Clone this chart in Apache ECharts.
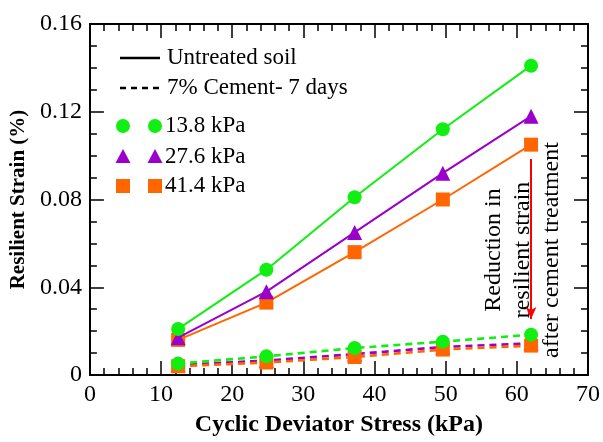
<!DOCTYPE html>
<html>
<head>
<meta charset="utf-8">
<script src="https://cdn.jsdelivr.net/npm/echarts@6/dist/echarts.min.js"></script>
<style>
    html, body {margin: 0; padding: 0; background: #fff;}
    #chart {width: 603px; height: 442px;}
</style>
</head>
<body>
<div id="chart"></div>
<script>
// cyclic deviator stress (kPa)
const stress = [12.4, 24.8, 37.2, 49.6, 62];

// resilient strain (%), untreated soil
const untreated138 = [0.021, 0.048, 0.081, 0.112, 0.141];
const untreated276 = [0.017, 0.038, 0.065, 0.092, 0.118];
const untreated414 = [0.016, 0.033, 0.056, 0.080, 0.105];

// resilient strain (%), 7% cement - 7 days
const cement138 = [0.0052, 0.0085, 0.0123, 0.0152, 0.0184];
const cement276 = [0.0045, 0.0066, 0.0095, 0.0128, 0.0144];
const cement414 = [0.0040, 0.0057, 0.0082, 0.0116, 0.0134];

const confining = ['13.8 kPa', '27.6 kPa', '41.4 kPa'];
const arrowFrom = [62, 0.0985];
const arrowTo = [62, 0.0255];

const green = '#11ee11';
const purple = '#9900cc';
const orange = '#ff6600';
const font = 'Liberation Serif';

function pairs(xs, ys) {
    const out = [];
    for (let i = 0; i < xs.length; i++) {
        out.push([xs[i], ys[i]]);
    }
    return out;
}

function makeSeries(name, values, color, symbol, size, dashed, z) {
    return {
        name: name,
        type: 'line',
        data: pairs(stress, values),
        symbol: symbol,
        symbolSize: size,
        z: z,
        itemStyle: {color: color},
        lineStyle: {
            color: color,
            width: dashed ? 2.6 : 2,
            type: dashed ? [7, 5] : 'solid'
        },
        emphasis: {disabled: true},
        animation: false
    };
}

const seriesData = [
    makeSeries(confining[2], untreated414, orange, 'rect', 14, false, 2),
    makeSeries(confining[1], untreated276, purple, 'triangle', 15, false, 3),
    makeSeries(confining[0], untreated138, green, 'circle', 14, false, 4),
    makeSeries(confining[1] + ' c', cement276, purple, 'triangle', 15, true, 2),
    makeSeries(confining[2] + ' c', cement414, orange, 'rect', 14, true, 3),
    makeSeries(confining[0] + ' c', cement138, green, 'circle', 14, true, 4)
];

// reduction arrow
seriesData.push({
    type: 'line',
    data: [],
    markLine: {
        silent: true,
        symbol: ['none', 'arrow'],
        symbolSize: [8, 12],
        label: {show: false},
        lineStyle: {color: '#ff0000', width: 2, type: 'solid'},
        data: [[{coord: arrowFrom}, {coord: arrowTo}]],
        animation: false
    }
});

const axisCommon = {
    axisLine: {show: true, onZero: false, lineStyle: {color: '#000', width: 2}},
    axisTick: {show: true, inside: true, length: 14, lineStyle: {color: '#000', width: 1.5}},
    minorTick: {show: true, length: 7, lineStyle: {color: '#000', width: 1.5}},
    splitLine: {show: false},
    minorSplitLine: {show: false}
};

const legendY = [126, 157, 186];
const legendSymbols = ['circle', 'triangle', 'rect'];
const legendColors = [green, purple, orange];
const legendFont = '23px "' + font + '"';

const graphics = [
    {type: 'line', shape: {x1: 120, y1: 58, x2: 160, y2: 58}, style: {stroke: '#000', lineWidth: 2.5}},
    {type: 'text', x: 167, y: 58, style: {text: 'Untreated soil', font: legendFont, fill: '#000', verticalAlign: 'middle'}},
    {type: 'line', shape: {x1: 120, y1: 88, x2: 160, y2: 88}, style: {stroke: '#000', lineWidth: 2.5, lineDash: [6, 5]}},
    {type: 'text', x: 167, y: 88, style: {text: '7% Cement- 7 days', font: legendFont, fill: '#000', verticalAlign: 'middle'}},
    {
        type: 'text', x: 523, y: 250, rotation: Math.PI / 2,
        style: {
            text: 'Reduction in\nresilient strain\nafter cement treatment',
            font: '24px "' + font + '"', fill: '#000', lineHeight: 29,
            align: 'center', verticalAlign: 'middle'
        }
    }
];

for (let i = 0; i < confining.length; i++) {
    [123, 155].forEach(function (cx) {
        if (legendSymbols[i] === 'circle') {
            graphics.push({type: 'circle', shape: {cx: cx, cy: legendY[i], r: 7}, style: {fill: legendColors[i]}});
        } else if (legendSymbols[i] === 'triangle') {
            graphics.push({type: 'polygon', shape: {points: [[cx, legendY[i] - 8], [cx + 7.5, legendY[i] + 6], [cx - 7.5, legendY[i] + 6]]}, style: {fill: legendColors[i]}});
        } else {
            graphics.push({type: 'rect', shape: {x: cx - 7, y: legendY[i] - 7, width: 14, height: 14}, style: {fill: legendColors[i]}});
        }
    });
    graphics.push({type: 'text', x: 165, y: legendY[i], style: {text: confining[i], font: legendFont, fill: '#000', verticalAlign: 'middle'}});
}

const myChart = echarts.init(document.getElementById('chart'));

const option = {
    backgroundColor: '#fff',
    animation: false,
    grid: {left: 86, right: 13, top: 24, bottom: 58, containLabel: false},
    xAxis: [
        Object.assign({}, axisCommon, {
            type: 'value', min: 0, max: 70, interval: 10,
            minorTick: Object.assign({}, axisCommon.minorTick, {splitNumber: 5}),
            name: 'Cyclic Deviator Stress (kPa)',
            nameLocation: 'middle', nameGap: 38,
            nameTextStyle: {fontFamily: font, fontWeight: 'bold', fontSize: 24, color: '#000'},
            axisLabel: {fontFamily: font, fontSize: 24, color: '#000', margin: 8}
        }),
        Object.assign({}, axisCommon, {
            type: 'value', min: 0, max: 70, interval: 10, position: 'top',
            minorTick: Object.assign({}, axisCommon.minorTick, {splitNumber: 5}),
            axisLabel: {show: false}
        })
    ],
    yAxis: [
        Object.assign({}, axisCommon, {
            type: 'value', min: 0, max: 0.16, interval: 0.04,
            minorTick: Object.assign({}, axisCommon.minorTick, {splitNumber: 4}),
            name: 'Resilient Strain (%)',
            nameLocation: 'middle', nameGap: 57, nameRotate: 90,
            nameTextStyle: {fontFamily: font, fontWeight: 'bold', fontSize: 21, color: '#000'},
            axisLabel: {fontFamily: font, fontSize: 24, color: '#000', margin: 8}
        }),
        Object.assign({}, axisCommon, {
            type: 'value', min: 0, max: 0.16, interval: 0.04, position: 'right',
            minorTick: Object.assign({}, axisCommon.minorTick, {splitNumber: 4}),
            axisLabel: {show: false}
        })
    ],
    graphic: graphics,
    series: seriesData
};

option && myChart.setOption(option);
</script>
</body>
</html>
